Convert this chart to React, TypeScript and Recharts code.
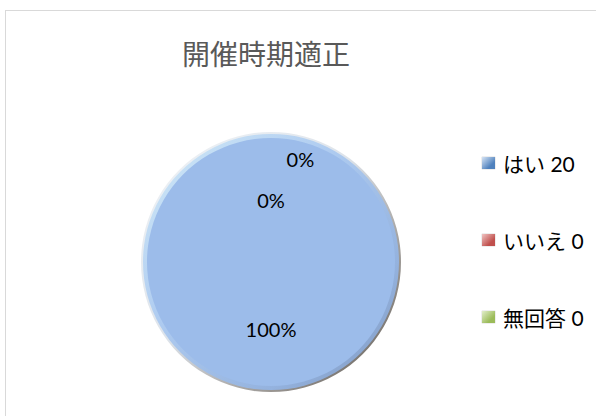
import { PieChart, Pie, Cell, Legend } from "recharts";

const categories = ["はい", "いいえ", "無回答"];
const counts = [20, 0, 0];
const sliceColors = ["#9cbcea", "#c0504d", "#9bbb59"];
const markerColors = [
  ["#d6e4f5", "#4f81bd"],
  ["#f0c4c3", "#c0504d"],
  ["#e2eecb", "#9bbb59"],
];
// label placement along each slice's mid angle (fraction of radius, angle shift in degrees)
const labelRadius = [0.54, 0.5, 0.86];
const labelShift = [0, 0, -16];

const data = categories.map((name, i) => ({ name, value: counts[i] }));

const W = 596;
const H = 416;
const CX = 266;
const CY = 257;
const FONT = "Lato, 'Noto Sans CJK JP', sans-serif";

const RAD = Math.PI / 180;

function renderLabel(props: any) {
  const { cx, cy, midAngle, outerRadius, percent, index } = props;
  const a = (midAngle + labelShift[index]) * RAD;
  const r = outerRadius * labelRadius[index];
  const x = cx + r * Math.cos(a);
  const y = cy - r * Math.sin(a);
  return (
    <text
      x={x}
      y={y}
      textAnchor="middle"
      dominantBaseline="central"
      fill="#000"
      fontSize={20}
      fontFamily={FONT}
    >
      {`${Math.round(percent * 100)}%`}
    </text>
  );
}

function LegendBox() {
  return (
    <div style={{ fontFamily: FONT, fontSize: 21, color: "#000" }}>
      {categories.map((name, i) => (
        <div
          key={name}
          style={{ display: "flex", alignItems: "center", height: 77 }}
        >
          <span
            style={{
              display: "inline-block",
              width: 13,
              height: 12,
              marginRight: 8,
              background: `linear-gradient(135deg, ${markerColors[i][0]}, ${markerColors[i][1]} 70%)`,
              boxShadow: "0 0 1px #999",
            }}
          />
          <span style={{ whiteSpace: "nowrap" }}>{`${name} ${counts[i]}`}</span>
        </div>
      ))}
    </div>
  );
}

export default function App() {
  return (
    <div
      style={{
        position: "absolute",
        left: 0,
        top: 0,
        width: W,
        height: H,
        background: "#fff",
        overflow: "hidden",
      }}
    >
      <div
        style={{
          position: "absolute",
          left: 5,
          top: 10,
          width: 620,
          height: 440,
          borderLeft: "1px solid #d9d9d9",
          borderTop: "1px solid #d9d9d9",
        }}
      />
      <div
        style={{
          position: "absolute",
          left: 0,
          width: 532,
          top: 34,
          textAlign: "center",
          fontFamily: "'Noto Sans CJK JP', sans-serif",
          fontSize: 28,
          lineHeight: "38px",
          color: "#595959",
        }}
      >
        開催時期適正
      </div>
      <div style={{ position: "absolute", left: 0, top: 0 }}>
        <PieChart width={W} height={H}>
          <defs>
            <linearGradient id="rim" x1="0" y1="0" x2="1" y2="1">
              <stop offset="0%" stopColor="#f2f5f8" />
              <stop offset="45%" stopColor="#dde3ea" />
              <stop offset="75%" stopColor="#9a9692" />
              <stop offset="100%" stopColor="#55504b" />
            </linearGradient>
            <linearGradient id="bevel" x1="0" y1="0" x2="1" y2="1">
              <stop offset="0%" stopColor="#d4ecf8" />
              <stop offset="40%" stopColor="#aecbf0" />
              <stop offset="75%" stopColor="#94b2de" />
              <stop offset="100%" stopColor="#7d96bd" />
            </linearGradient>
          </defs>
          <Pie
            data={data}
            dataKey="value"
            nameKey="name"
            cx={CX}
            cy={CY}
            outerRadius={130}
            startAngle={90}
            endAngle={-270}
            fill="url(#rim)"
            stroke="none"
            legendType="none"
            isAnimationActive={false}
          />
          <Pie
            data={data}
            dataKey="value"
            nameKey="name"
            cx={CX}
            cy={CY}
            outerRadius={128}
            startAngle={90}
            endAngle={-270}
            fill="url(#bevel)"
            stroke="none"
            legendType="none"
            isAnimationActive={false}
          />
          <Pie
            data={data}
            dataKey="value"
            nameKey="name"
            cx={CX}
            cy={CY}
            outerRadius={124}
            startAngle={90}
            endAngle={-270}
            stroke="none"
            label={renderLabel}
            labelLine={false}
            isAnimationActive={false}
          >
            {data.map((d, i) => (
              <Cell key={d.name} fill={sliceColors[i]} />
            ))}
          </Pie>
          <Legend
            layout="vertical"
            content={() => <LegendBox />}
            wrapperStyle={{ position: "absolute", left: 482, top: 124.5, width: 114 }}
          />
        </PieChart>
      </div>
    </div>
  );
}
